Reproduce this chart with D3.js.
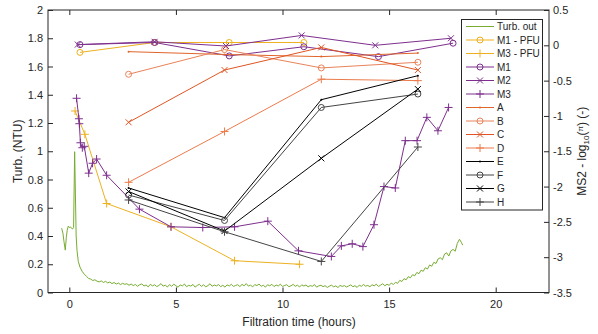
<!DOCTYPE html>
<html>
<head>
<meta charset="utf-8">
<script src="https://cdn.jsdelivr.net/npm/d3@7"></script>
<style>
  body { margin: 0; background: #fff; }
  text { font-family: "Liberation Sans", Arial, sans-serif; fill: #262626; }
</style>
</head>
<body>
<svg id="chart" width="598" height="334"></svg>
<script>
// turbidity outflow (NTU, left axis)
const turbTime = [-0.36, -0.3, -0.25, -0.19, -0.14, -0.1, -0.05, 0.0, 0.05, 0.1, 0.15, 0.2, 0.25, 0.32, 0.36, 0.42, 0.5, 0.6, 0.7, 0.8, 0.9, 1.0, 1.1, 1.2, 1.3, 1.4,
  1.5, 1.6, 1.7, 1.8, 1.9,
  2.0, 2.1, 2.2, 2.3, 2.4, 2.5, 2.6, 2.7, 2.8, 2.9,
  3.0, 3.1, 3.2, 3.3, 3.4, 3.5, 3.6, 3.7, 3.8, 3.9,
  4.0, 4.1, 4.2, 4.3, 4.4, 4.5, 4.6, 4.7, 4.8, 4.9,
  5.0, 5.1, 5.2, 5.3, 5.4, 5.5, 5.6, 5.7, 5.8, 5.9,
  6.0, 6.1, 6.2, 6.3, 6.4, 6.5, 6.6, 6.7, 6.8, 6.9,
  7.0, 7.1, 7.2, 7.3, 7.4, 7.5, 7.6, 7.7, 7.8, 7.9,
  8.0, 8.1, 8.2, 8.3, 8.4, 8.5, 8.6, 8.7, 8.8, 8.9,
  9.0, 9.1, 9.2, 9.3, 9.4, 9.5, 9.6, 9.7, 9.8, 9.9,
  10.0, 10.1, 10.2, 10.3, 10.4, 10.5, 10.6, 10.7, 10.8, 10.9,
  11.0, 11.1, 11.2, 11.3, 11.4, 11.5, 11.6, 11.7, 11.8, 11.9,
  12.0, 12.1, 12.2, 12.3, 12.4, 12.5, 12.6, 12.7, 12.8, 12.9,
  13.0, 13.1, 13.2, 13.3, 13.4, 13.5, 13.6, 13.7, 13.8, 13.9,
  14.0, 14.1, 14.2, 14.3, 14.4, 14.5, 14.6, 14.7, 14.8, 14.9,
  15.0, 15.1, 15.2, 15.3, 15.4, 15.5, 15.6, 15.7, 15.8, 15.9,
  16.0, 16.1, 16.2, 16.3, 16.4, 16.5, 16.6, 16.7, 16.8, 16.9,
  17.0, 17.1, 17.2, 17.3, 17.4, 17.5, 17.6, 17.7, 17.8, 17.9,
  18.0, 18.1, 18.2, 18.3, 18.4, 18.45];
const turbValue = [0.455, 0.42, 0.36, 0.30, 0.39, 0.44, 0.47, 0.46, 0.465, 0.455, 0.45, 0.46, 0.997, 0.40, 0.30, 0.22, 0.18, 0.15, 0.13, 0.115, 0.10, 0.095, 0.085, 0.09, 0.08, 0.075,
  0.082, 0.071, 0.079, 0.068, 0.074,
  0.063, 0.071, 0.060, 0.067, 0.056, 0.065, 0.058, 0.062, 0.051, 0.060,
  0.049, 0.057, 0.044, 0.055, 0.061, 0.046, 0.053, 0.040, 0.058, 0.047,
  0.055, 0.042, 0.050, 0.063, 0.045, 0.052, 0.039, 0.056, 0.044, 0.059,
  0.048, 0.037, 0.054, 0.046, 0.060, 0.041, 0.051, 0.045, 0.057, 0.038,
  0.050, 0.058, 0.043, 0.055, 0.040, 0.049, 0.062, 0.044, 0.053, 0.047,
  0.056, 0.041, 0.051, 0.038, 0.054, 0.046, 0.058, 0.043, 0.050, 0.055,
  0.042, 0.057, 0.048, 0.063, 0.045, 0.052, 0.040, 0.056, 0.049, 0.060,
  0.044, 0.051, 0.038, 0.055, 0.047, 0.058, 0.042, 0.053, 0.046, 0.059,
  0.043, 0.050, 0.055, 0.041, 0.048, 0.057, 0.044, 0.052, 0.039, 0.054,
  0.046, 0.053, 0.040, 0.049, 0.044, 0.056, 0.038, 0.047, 0.051, 0.042,
  0.048, 0.036, 0.045, 0.052, 0.040, 0.047, 0.035, 0.050, 0.043, 0.049,
  0.039, 0.046, 0.054, 0.041, 0.048, 0.036, 0.052, 0.044, 0.057, 0.045,
  0.050, 0.041, 0.055, 0.047, 0.059, 0.043, 0.052, 0.062, 0.048, 0.058,
  0.051, 0.066, 0.057, 0.072, 0.065, 0.086, 0.078, 0.098, 0.090, 0.112,
  0.104, 0.126, 0.118, 0.142, 0.133, 0.158, 0.150, 0.176, 0.166, 0.195,
  0.186, 0.214, 0.205, 0.238, 0.246, 0.232, 0.272, 0.281, 0.258, 0.295,
  0.305, 0.292, 0.348, 0.377, 0.352, 0.335];

// MS2 log removal (right axis)
const m1PfuTime = [0.5, 4.0, 7.5, 11.0];
const m1PfuValue = [-0.10, 0.04, 0.04, 0.04];
const m3PfuTime = [0.27, 0.73, 1.75, 4.77, 7.75, 10.8];
const m3PfuValue = [-0.93, -1.26, -2.24, -2.57, -3.05, -3.10];
const m1Time = [0.5, 4.0, 7.5, 11.0, 14.5, 18.0];
const m1Value = [0.01, 0.04, -0.15, -0.02, -0.16, 0.03];
const m2Time = [0.4, 4.0, 7.35, 10.9, 14.35, 17.9];
const m2Value = [0.01, 0.05, -0.01, 0.14, 0.00, 0.10];
const m3Time = [0.34, 0.45, 0.47, 0.52, 0.61, 0.70, 0.91, 1.09, 1.28, 1.75, 3.29, 4.77, 6.26, 7.75, 9.31, 10.75,
  12.29, 12.76, 13.27, 13.77, 14.29, 14.76, 15.29, 15.76, 16.31, 16.77, 17.29, 17.79];
const m3Value = [-0.75, -1.04, -1.11, -1.38, -1.45, -1.43, -1.81, -1.67, -1.61, -1.84, -2.32, -2.57, -2.58, -2.57, -2.49, -2.91,
  -2.99, -2.84, -2.81, -2.85, -2.54, -2.00, -2.02, -1.35, -1.35, -1.02, -1.21, -0.88];
const sampleTime = [2.78, 7.28, 11.82, 16.35];
const aValue = [-0.09, -0.13, -0.16, -0.11];
const bValue = [-0.41, -0.06, -0.32, -0.24];
const cValue = [-1.09, -0.35, -0.03, -0.35];
const dValue = [-1.94, -1.22, -0.48, -0.50];
const eValue = [-2.02, -2.44, -0.77, -0.43];
const fValue = [-2.12, -2.48, -0.88, -0.69];
const gValue = [-2.07, -2.63, -1.60, -0.62];
const hValue = [-2.19, -2.64, -3.06, -1.44];

const leftTicks = [0, 0.2, 0.4, 0.6, 0.8, 1, 1.2, 1.4, 1.6, 1.8, 2];
const rightTicks = [-3.5, -3, -2.5, -2, -1.5, -1, -0.5, 0, 0.5];
const timeTicks = [0, 5, 10, 15, 20];

const series = [
  { name: 'Turb. out', t: turbTime, v: turbValue, axis: 'left', color: '#77ac30', marker: 'none' },
  { name: 'M1 - PFU', t: m1PfuTime, v: m1PfuValue, axis: 'right', color: '#edb120', marker: 'o' },
  { name: 'M3 - PFU', t: m3PfuTime, v: m3PfuValue, axis: 'right', color: '#edb120', marker: '+' },
  { name: 'M1', t: m1Time, v: m1Value, axis: 'right', color: '#7e2f8e', marker: 'o' },
  { name: 'M2', t: m2Time, v: m2Value, axis: 'right', color: '#7e2f8e', marker: 'x' },
  { name: 'M3', t: m3Time, v: m3Value, axis: 'right', color: '#7e2f8e', marker: '+' },
  { name: 'A', t: sampleTime, v: aValue, axis: 'right', color: '#e0652a', marker: '.' },
  { name: 'B', t: sampleTime, v: bValue, axis: 'right', color: '#e8835a', marker: 'o' },
  { name: 'C', t: sampleTime, v: cValue, axis: 'right', color: '#e05522', marker: 'x' },
  { name: 'D', t: sampleTime, v: dValue, axis: 'right', color: '#ec7b4c', marker: '+' },
  { name: 'E', t: sampleTime, v: eValue, axis: 'right', color: '#000000', marker: '.' },
  { name: 'F', t: sampleTime, v: fValue, axis: 'right', color: '#444444', marker: 'o' },
  { name: 'G', t: sampleTime, v: gValue, axis: 'right', color: '#000000', marker: 'x' },
  { name: 'H', t: sampleTime, v: hValue, axis: 'right', color: '#444444', marker: '+' }
];

const svg = d3.select('#chart');
const plotLeft = 48, plotRight = 549, plotTop = 10, plotBottom = 292.5;

const x = d3.scaleLinear().domain([-1, 22.5]).range([plotLeft, plotRight]);
const yL = d3.scaleLinear().domain([0, 2]).range([plotBottom, plotTop]);
const yR = d3.scaleLinear().domain([-3.5, 0.5]).range([plotBottom, plotTop]);
const fmt = d => String(+d.toFixed(1));

// axes (ticks point inward, box style)
function styleAxis(g) {
  g.select('.domain').remove();
  g.selectAll('line').attr('stroke', '#262626');
  g.selectAll('text').attr('font-size', 11).attr('fill', '#262626').style('font-family', '"Liberation Sans", Arial, sans-serif');
}
svg.append('g').attr('transform', `translate(0,${plotBottom})`)
  .call(d3.axisBottom(x).tickValues(timeTicks).tickFormat(fmt).tickSizeInner(-5).tickSizeOuter(0).tickPadding(8))
  .call(styleAxis);
svg.append('g').attr('transform', `translate(0,${plotTop})`)
  .call(d3.axisTop(x).tickValues(timeTicks).tickFormat('').tickSizeInner(-5).tickSizeOuter(0))
  .call(styleAxis);
svg.append('g').attr('transform', `translate(${plotLeft},0)`)
  .call(d3.axisLeft(yL).tickValues(leftTicks).tickFormat(fmt).tickSizeInner(-5).tickSizeOuter(0).tickPadding(5))
  .call(styleAxis);
svg.append('g').attr('transform', `translate(${plotRight},0)`)
  .call(d3.axisRight(yR).tickValues(rightTicks).tickFormat(fmt).tickSizeInner(-5).tickSizeOuter(0).tickPadding(4))
  .call(styleAxis);

svg.append('rect')
  .attr('x', plotLeft).attr('y', plotTop)
  .attr('width', plotRight - plotLeft).attr('height', plotBottom - plotTop)
  .attr('fill', 'none').attr('stroke', '#262626').attr('stroke-width', 1);

// axis labels
svg.append('text')
  .attr('x', (plotLeft + plotRight) / 2 + 0.5).attr('y', 326)
  .attr('text-anchor', 'middle').attr('font-size', 12)
  .text('Filtration time (hours)');
svg.append('text')
  .attr('transform', `translate(22,${(plotTop + plotBottom) / 2}) rotate(-90)`)
  .attr('text-anchor', 'middle').attr('font-size', 12)
  .text('Turb. (NTU)');
const rl = svg.append('text')
  .attr('transform', `translate(586,${(plotTop + plotBottom) / 2}) rotate(-90)`)
  .attr('text-anchor', 'middle').attr('font-size', 12);
rl.append('tspan').text('MS2 - log');
rl.append('tspan').attr('font-size', 8).attr('dy', 3).text('10');
rl.append('tspan').attr('dy', -3).text('(');
rl.append('tspan').attr('font-size', 8).attr('dy', -3).text('π');
rl.append('tspan').attr('dy', 3).text(') (-)');

// markers
function drawMarker(g, mk, color, cx, cy) {
  if (mk === 'o') {
    g.append('circle').attr('cx', cx).attr('cy', cy).attr('r', 3)
      .attr('fill', 'none').attr('stroke', color).attr('stroke-width', 1);
  } else if (mk === 'x') {
    const s = 3;
    g.append('path').attr('d', `M${cx - s},${cy - s}L${cx + s},${cy + s}M${cx - s},${cy + s}L${cx + s},${cy - s}`)
      .attr('stroke', color).attr('stroke-width', 1).attr('fill', 'none');
  } else if (mk === '+') {
    const s = 4;
    g.append('path').attr('d', `M${cx - s},${cy}L${cx + s},${cy}M${cx},${cy - s}L${cx},${cy + s}`)
      .attr('stroke', color).attr('stroke-width', 1).attr('fill', 'none');
  } else if (mk === '.') {
    g.append('circle').attr('cx', cx).attr('cy', cy).attr('r', 1).attr('fill', color);
  }
}

const plot = svg.append('g');
series.forEach(s => {
  const y = s.axis === 'left' ? yL : yR;
  const pts = s.t.map((t, i) => [x(t), y(s.v[i])]);
  plot.append('path')
    .attr('d', d3.line()(pts))
    .attr('fill', 'none').attr('stroke', s.color)
    .attr('stroke-width', 1).attr('stroke-linejoin', 'round');
  const mg = plot.append('g');
  pts.forEach(p => drawMarker(mg, s.marker, s.color, p[0], p[1]));
});

// legend
const lg = svg.append('g');
lg.append('rect')
  .attr('x', 461.5).attr('y', 19.5).attr('width', 81).attr('height', 190.5)
  .attr('fill', '#fff').attr('stroke', '#262626').attr('stroke-width', 1);
series.forEach((s, i) => {
  const yy = 26.5 + i * 13.5;
  lg.append('line').attr('x1', 466).attr('x2', 494).attr('y1', yy).attr('y2', yy)
    .attr('stroke', s.color).attr('stroke-width', 1);
  drawMarker(lg, s.marker, s.color, 480, yy);
  lg.append('text').attr('x', 497).attr('y', yy + 3.5)
    .attr('font-size', 10).attr('fill', '#000').text(s.name);
});
</script>
</body>
</html>
